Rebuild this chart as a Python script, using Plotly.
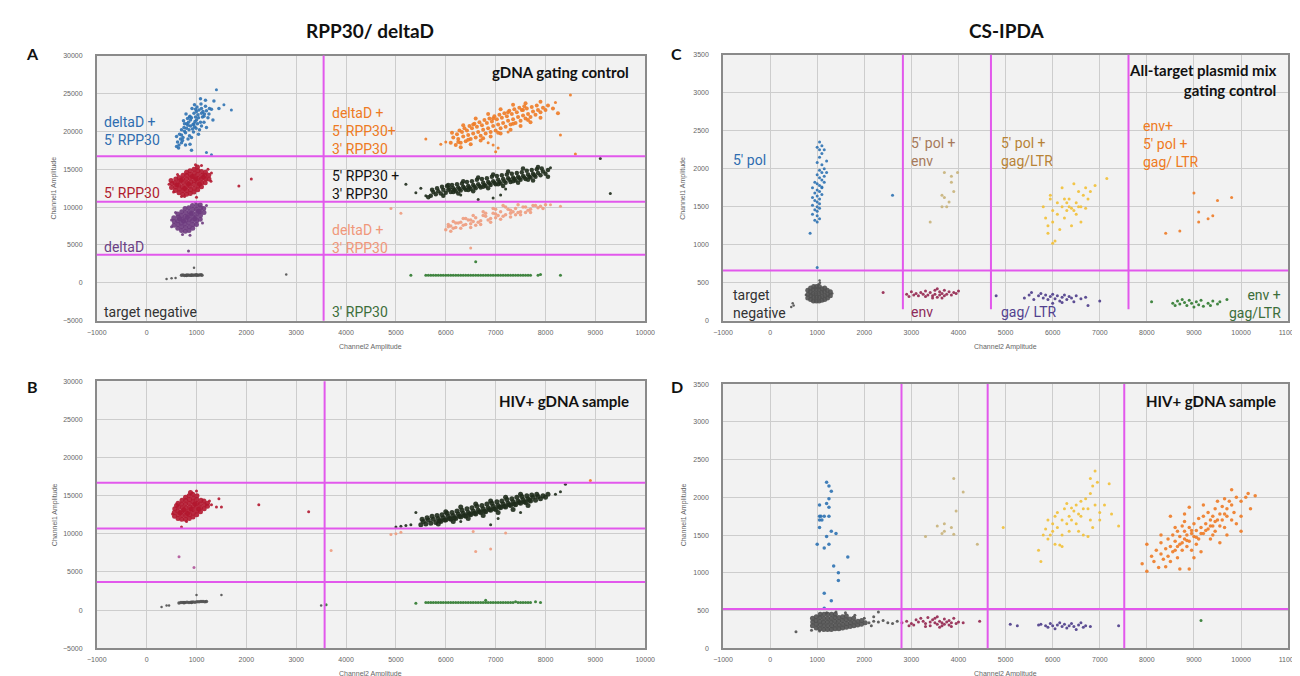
import plotly.graph_objects as go

W, H = 1300, 676

# ---------------- data (Channel2 amplitude, Channel1 amplitude) ----------------
# Panel A: RPP30 / deltaD, gDNA gating control
A_blue = [(700,19500),(750,20500),(800,21000),(850,20200),(900,21800),(950,22400),(1000,21500),(1050,22800),(1100,23000),(1150,22000),(720,18800),(780,19800),(830,20800),(880,21500),(930,20900),(980,21900),(1030,22200),(1080,21200),(1130,22600),(1180,23300),(650,18200),(760,20000),(870,22000),(960,20600),(1020,21000),(1120,21900),(820,21700),(900,19200),(990,20400),(1060,20200),(640,17800),(700,18500),(780,18200),(860,19400),(940,19900),(1010,23200),(1090,23600),(1160,22300),(1230,21800),(1260,23000),(600,18000),(680,19000),(900,17500),(1350,24000),(1450,23000),(840,21200),(920,20300),(970,21300),(1040,21800),(1100,22400),(800,20400),(880,20700),(950,21000),(1000,22600),(1200,22700),(730,19200),(860,21900),(620,18600),(660,19600),(700,20200),(740,21400),(790,22300),(830,19000),(870,18300),(910,23000),(960,23500),(1040,19600),(1100,20700),(1150,21200),(1200,20500),(1250,22300),(1300,22900),(1180,24100),(1080,24300),(980,22900),(1330,21500),(760,21000),(600,19300)]
A_blue_out = [(1400,25500),(1550,23500),(1700,22800),(1200,17200),(1300,16900)]
A_red = [(500,12600),(510,13100),(490,13500),(575,12200),(580,12700),(570,13200),(585,13700),(650,11900),(655,12400),(645,12900),(660,13400),(650,13900),(725,11700),(730,12200),(720,12700),(735,13200),(725,13700),(730,14200),(800,11700),(805,12200),(795,12700),(810,13200),(800,13700),(805,14200),(800,14600),(875,11800),(880,12300),(870,12800),(885,13300),(875,13800),(880,14300),(870,14800),(950,12000),(955,12500),(945,13000),(960,13500),(950,14000),(955,14500),(950,15000),(1025,12300),(1030,12800),(1020,13300),(1035,13800),(1025,14300),(1030,14800),(1020,15300),(1100,12700),(1105,13200),(1095,13700),(1110,14200),(1100,14700),(1175,13200),(1180,13700),(1170,14200),(1180,14600),(1250,13700),(1245,14200),(610,12950),(690,13550),(760,12450),(840,13050),(915,14050),(990,13750),(1060,13050),(1140,13950)]
A_red_out = [(450,13000),(980,15600),(1850,12800),(2100,13700),(1000,11300),(700,11400),(1300,14500),(540,12000),(620,14300),(1230,15000),(1290,13400),(760,11400),(1100,15500)]
A_purple = [(550,7600),(555,8100),(545,8600),(625,7200),(630,7700),(620,8200),(635,8700),(625,9100),(700,6900),(705,7400),(695,7900),(710,8400),(700,8900),(705,9400),(775,6800),(780,7300),(770,7800),(785,8300),(775,8800),(780,9300),(770,9800),(850,6900),(855,7400),(845,7900),(860,8400),(850,8900),(855,9400),(845,9900),(925,7200),(930,7700),(920,8200),(935,8700),(925,9200),(930,9700),(920,10200),(1000,7700),(1005,8200),(995,8700),(1010,9200),(1000,9700),(1005,10200),(1075,8400),(1080,8900),(1070,9400),(1085,9900),(1075,10300),(1150,9300),(1145,9800),(740,8150),(815,8650),(890,9150),(965,8450),(660,8450),(1040,9450)]
A_purple_out = [(500,7400),(720,6400),(840,4200),(980,10600),(1200,10200),(580,9300),(1120,7900),(870,6300),(500,8300)]
A_gray = [(700,1000),(730,1030),(760,980),(790,1010),(820,1040),(850,990),(880,1020),(910,1050),(940,1000),(970,1030),(1000,1060),(1030,1010),(1060,1040),(1090,1070),(1110,1020),(800,960),(900,990),(1000,1000)]
A_gray_out = [(400,500),(500,600),(580,650),(950,2000),(2800,1100)]
A_orange = [(6100,18500),(6150,19200),(6125,19800),(6200,18200),(6250,19000),(6225,19600),(6275,20100),(6300,18500),(6350,19300),(6325,19900),(6375,20400),(6400,18700),(6450,19500),(6425,20100),(6475,20700),(6500,19000),(6550,19700),(6525,20400),(6575,21000),(6600,19200),(6650,19900),(6625,20600),(6675,21200),(6700,19400),(6750,20200),(6725,20800),(6775,21500),(6800,19700),(6850,20400),(6825,21100),(6875,21700),(6900,19900),(6950,20700),(6925,21300),(6975,22000),(7000,20100),(7050,20900),(7025,21600),(7075,22200),(7100,20400),(7150,21100),(7125,21800),(7175,22400),(7200,20600),(7250,21400),(7225,22000),(7275,22700),(7300,20900),(7350,21600),(7325,22300),(7375,22900),(7400,21100),(7450,21900),(7425,22500),(7475,23100),(7500,21400),(7550,22100),(7525,22800),(7575,23300),(7600,21700),(7650,22300),(7625,23000),(7700,21900),(7750,22600),(7725,23200),(7800,22200),(7850,22800),(7825,23400),(7900,22500),(7950,23100),(8000,22800),(8050,23400),(6300,17900),(6500,18300),(6700,18800),(6900,19300),(7100,19700),(7300,20200),(7500,20700),(7700,21200),(7900,21800),(6350,20800),(6600,21700),(6850,22300),(7100,22900),(7350,23500),(7600,23700),(7900,23900),(6450,18900),(6750,19100),(7050,19800),(7350,21000),(7650,21500),(6550,20900),(6950,21700),(7250,22500),(7550,22800),(6250,18600),(8150,23000),(8250,22400)]
A_orange_out = [(5600,19000),(8500,24800),(8600,17000),(8300,19500),(7000,17300),(7050,17800),(6850,18500),(8200,23800),(6000,18600),(5900,18300),(6950,18200),(7250,19900)]
A_dark = [(5700,11500),(5750,12000),(5725,12300),(5800,11700),(5850,12100),(5825,12500),(5900,11800),(5950,12300),(5925,12700),(6000,11900),(6050,12300),(6025,12800),(6075,12500),(6100,12000),(6150,12500),(6125,12900),(6175,12300),(6200,12100),(6250,12600),(6225,13000),(6275,12400),(6300,12200),(6350,12700),(6325,13100),(6375,12500),(6400,12300),(6450,12800),(6425,13300),(6475,12600),(6500,12400),(6550,12900),(6525,13400),(6575,12700),(6600,12500),(6650,13000),(6625,13600),(6675,12800),(6700,12600),(6750,13200),(6725,13700),(6775,12900),(6800,12800),(6850,13300),(6825,13800),(6875,13100),(6900,12900),(6950,13400),(6925,14000),(6975,13200),(7000,13000),(7050,13600),(7025,14100),(7075,13300),(7100,13100),(7150,13700),(7125,14200),(7175,13400),(7200,13200),(7250,13800),(7225,14300),(7275,13600),(7300,13300),(7350,13900),(7325,14400),(7375,13700),(7400,13500),(7450,14000),(7425,14500),(7475,13800),(7500,13600),(7550,14100),(7525,14600),(7575,13900),(7600,13700),(7650,14300),(7625,14800),(7675,14000),(7700,13900),(7750,14400),(7725,14900),(7775,14200),(7800,14000),(7850,14500),(7825,15000),(7900,14200),(7950,14700),(7925,15100),(8000,14400),(8050,14900),(5650,11300),(5950,11500),(6250,11800),(6550,12100),(6850,12500),(7150,12800),(7450,13200),(7750,13500),(8050,14000),(6050,12900),(6350,13400),(6650,13900),(6950,14300),(7250,14700),(7550,15100),(7850,15300),(6150,12000),(6450,12250),(6750,12700),(7050,13000),(7350,13400),(7650,13600)]
A_dark_out = [(5500,12500),(5200,13000),(5600,11500),(9300,11800),(9100,16400),(6950,11200),(6650,11000),(7100,11600),(7200,12400),(6300,11600),(8100,15200),(5400,11900)]
A_salmon = [(6000,7000),(6050,7400),(6100,7500),(6150,7200),(6200,7300),(6250,7900),(6300,8000),(6350,7600),(6400,7700),(6450,8300),(6500,8300),(6500,7800),(6550,8100),(6600,8600),(6650,8000),(6700,8200),(6750,8900),(6800,8800),(6850,8300),(6900,8500),(6950,9200),(7000,9100),(7000,8600),(7050,8900),(7100,9400),(7150,8800),(7200,9000),(7250,9700),(7300,9600),(7300,9200),(7350,9400),(7400,9800),(7450,9300),(7500,9400),(7550,10000),(7600,10000),(7650,9600),(7700,9700),(7750,10200),(7800,10200),(7850,9900),(7900,10100),(8000,10300),(6200,7900),(6600,7600),(7000,9700),(7400,9000),(7200,10000),(6800,9200),(6400,8500),(7600,9300),(6100,6800),(6300,7200),(6500,7300),(6700,7700),(6900,8000),(7100,8400),(7300,8700),(7500,9000),(7700,9300),(6150,8100),(6350,8500),(6550,8900),(6750,9400),(6950,9800),(7150,10200),(7450,10300),(7950,9800),(6050,7700)]
A_salmon_out = [(4900,9800),(5100,9200),(6500,4600),(8300,10100),(8100,10300)]
A_green = [(5600,1000),(5650,990),(5700,1010),(5750,1000),(5800,990),(5850,1010),(5900,1000),(5950,990),(6000,1010),(6050,1000),(6100,990),(6150,1010),(6200,1000),(6250,990),(6300,1010),(6350,1000),(6400,990),(6450,1010),(6500,1000),(6550,990),(6600,1010),(6650,1000),(6700,990),(6750,1010),(6800,1000),(6850,990),(6900,1010),(6950,1000),(7000,990),(7050,1010),(7100,1000),(7150,990),(7200,1010),(7250,1000),(7300,990),(7350,1010),(7400,1000),(7450,990),(7500,1010),(7550,1000),(7600,990),(7650,1000),(7700,1000)]
A_green_out = [(5300,1000),(6600,2800),(7900,1100),(8300,1000),(7850,1000)]

# Panel B: RPP30 / deltaD, HIV+ gDNA sample
B_red = [(560,12300),(555,12800),(565,13300),(630,12000),(635,12500),(625,13000),(640,13500),(630,14000),(705,11900),(710,12400),(700,12900),(715,13400),(705,13900),(710,14400),(780,11900),(785,12400),(775,12900),(790,13400),(780,13900),(785,14400),(780,14800),(855,12000),(860,12500),(850,13000),(865,13500),(855,14000),(860,14500),(850,15000),(930,12200),(935,12700),(925,13200),(940,13700),(930,14200),(935,14700),(925,15200),(1005,12500),(1010,13000),(1000,13500),(1015,14000),(1005,14500),(1010,15000),(1080,12900),(1085,13400),(1075,13900),(1090,14400),(1155,13300),(1160,13800),(1150,14300),(1220,13600),(1220,14000),(670,12750),(745,13150),(820,12650),(895,13250),(970,13950),(1045,13250),(600,13700),(880,15400)]
B_red_out = [(1000,15600),(1300,13800),(1400,13500),(1500,13500),(1450,14600),(2250,13800),(3250,12900),(700,10900),(520,12600),(1260,14300),(800,11600)]
B_pink = [(650,7000),(950,5600)]
B_gray = [(650,950),(690,990),(730,1000),(770,1020),(810,1050),(850,1000),(890,1050),(930,1080),(970,1050),(1010,1100),(1050,1100),(1090,1120),(1130,1150),(1170,1100),(1200,1150),(750,960),(900,1010)]
B_gray_out = [(300,400),(400,600),(450,600),(1000,2000),(1500,2000),(3500,600)]
B_green = [(5600,1000),(5650,990),(5700,1000),(5750,1010),(5800,990),(5850,1000),(5900,1020),(5950,1000),(6000,1000),(6050,990),(6100,1000),(6150,1010),(6200,990),(6250,1000),(6300,1010),(6350,1000),(6400,1010),(6450,990),(6500,1000),(6550,1010),(6600,990),(6650,1000),(6700,1020),(6750,1010),(6800,1000),(6850,990),(6900,1000),(6950,1010),(7000,1000),(7050,990),(7100,1010),(7150,1000),(7200,990),(7250,1010),(7300,1000),(7350,1010),(7400,1100),(7450,1000),(7500,1000),(7550,990),(7600,1010),(7650,1000),(7700,1000)]
B_green_out = [(3600,700),(5400,900),(6800,1300),(7800,1100),(7900,1000)]
B_dark = [(5500,11200),(5550,11600),(5525,11900),(5600,11300),(5650,11800),(5625,12100),(5700,11400),(5750,11900),(5725,12300),(5800,11500),(5850,12000),(5825,12400),(5875,11700),(5900,11600),(5950,12100),(5925,12500),(5975,11800),(6000,11800),(6050,12300),(6025,12700),(6075,12000),(6100,11900),(6150,12400),(6125,12800),(6175,12100),(6200,12000),(6250,12600),(6225,13000),(6275,12300),(6300,12200),(6350,12700),(6325,13100),(6375,12400),(6400,12300),(6450,12800),(6425,13300),(6475,12600),(6500,12500),(6550,13000),(6525,13400),(6575,12700),(6600,12600),(6650,13100),(6625,13600),(6675,12900),(6700,12800),(6750,13300),(6725,13700),(6775,13000),(6800,12900),(6850,13400),(6825,13900),(6875,13200),(6900,13100),(6950,13600),(6925,14000),(6975,13300),(7000,13200),(7050,13700),(7025,14200),(7075,13500),(7100,13400),(7150,13900),(7125,14300),(7175,13600),(7200,13500),(7250,14000),(7225,14500),(7275,13800),(7300,13700),(7350,14200),(7325,14600),(7375,13900),(7400,13800),(7450,14300),(7425,14800),(7475,14100),(7500,14000),(7550,14500),(7525,14900),(7575,14200),(7600,14100),(7650,14600),(7625,15000),(7675,14400),(7700,14300),(7750,14800),(7725,15100),(7800,14400),(7850,14900),(7825,15200),(7900,14600),(7950,15000),(8000,14800),(8050,15200),(5850,11300),(6150,11600),(6450,12000),(6750,12400),(7050,12800),(7350,13200),(7650,13700),(6000,12900),(6300,13500),(6600,13900),(6900,14300),(7200,14800),(7500,15200)]
B_dark_out = [(5300,11200),(5100,11000),(5000,10900),(5400,12800),(6900,11200),(7050,12000),(7500,12800),(8200,15200),(8300,15500),(8400,16500),(6300,11600),(5200,11100)]
B_salmon = [(4900,9900),(5000,10000),(5100,10200),(6550,10300),(6600,7700),(6900,8000),(7200,10100),(3700,7800)]
B_orange = [(8900,17000)]

# Panel C: CS-IPDA, all-target plasmid mix gating control
C_blue = [(1050,2350),(1100,2300),(1000,2280),(1150,2250),(1100,2200),(1050,2150),(1200,2100),(1000,2080),(1100,2050),(1150,2000),(1050,1980),(1100,1950),(1000,1920),(1150,1900),(1050,1880),(1100,1850),(950,1820),(1000,1800),(1050,1780),(1100,1760),(900,1750),(1000,1720),(1050,1700),(950,1680),(1100,1660),(1000,1640),(900,1620),(1050,1600),(950,1580),(1000,1560),(1050,1540),(900,1520),(1000,1500),(1050,1480),(950,1460),(1000,1440),(900,1400),(1000,1380),(1050,1340),(950,1320),(1000,1300),(850,1150),(1100,1750),(1150,1820),(1200,1950),(1050,2250),(1000,700),(2600,1650)]
C_gray = [(800,300),(805,350),(800,400),(860,280),(865,330),(855,380),(860,430),(920,260),(925,310),(915,360),(920,410),(925,450),(980,260),(985,310),(975,360),(980,410),(985,450),(1040,260),(1045,310),(1035,360),(1040,410),(1045,450),(1100,270),(1105,320),(1095,370),(1100,420),(1160,280),(1165,330),(1155,380),(1160,430),(1220,300),(1225,350),(1215,400),(1280,330),(1280,380)]
C_gray_out = [(1030,480),(1060,500),(1050,530),(500,200),(450,180),(480,230),(1320,360),(760,340)]
C_khaki = [(3700,1950),(3850,1900),(3980,1950),(3850,1820),(3900,1700),(3650,1650),(3700,1620),(3800,1560),(3650,1500),(3400,1300),(3750,1500)]
C_maroon = [(2900,350),(2950,320),(3000,380),(3050,340),(3100,360),(3150,330),(3200,370),(3250,350),(3300,390),(3350,340),(3400,370),(3450,330),(3500,400),(3500,350),(3550,310),(3600,380),(3600,340),(3650,360),(3700,330),(3700,400),(3750,350),(3800,380),(3850,340),(3900,370),(3950,360),(4000,390),(3550,420),(3450,300),(3650,300),(3300,320),(2400,370)]
C_purple = [(4800,330),(5400,300),(5500,340),(5550,370),(5600,280),(5700,330),(5750,360),(5800,300),(5850,340),(5900,280),(5950,320),(6000,350),(6050,290),(6100,330),(6150,260),(6200,310),(6250,340),(6300,280),(6350,320),(6400,300),(6450,250),(6500,330),(6600,290),(6700,310),(6750,200),(7000,260),(6200,240),(6000,230)]
C_yellow = [(5800,1500),(5850,1350),(5900,1250),(5950,1650),(6000,1450),(6000,1300),(6050,1050),(6100,1550),(6100,1400),(6150,1200),(6200,1750),(6200,1500),(6250,1350),(6300,1450),(6350,1600),(6400,1480),(6400,1250),(6450,1800),(6500,1550),(6500,1400),(6550,1700),(6600,1500),(6650,1650),(6700,1750),(6700,1480),(6750,1600),(6800,1700),(5900,1150),(6000,1020),(6300,1550),(6600,1300),(6900,1780),(7150,1870),(6250,1600),(6450,1450),(5950,1600),(6350,1500),(6550,1500)]
C_orange = [(9000,1680),(9500,1580),(9800,1620),(9100,1430),(9100,1300),(9300,1340),(9400,1380),(8400,1150),(8700,1180)]
C_green = [(8100,250),(8550,230),(8600,200),(8650,260),(8700,220),(8750,280),(8800,240),(8850,200),(8900,270),(8950,230),(9000,180),(9050,250),(9100,210),(9150,270),(9200,190),(9300,230),(9350,200),(9400,260),(9500,220),(9550,250),(9700,280)]

# Panel D: CS-IPDA, HIV+ gDNA sample
D_gray = [(900,300),(905,350),(900,400),(980,270),(985,320),(975,370),(980,420),(1060,260),(1065,310),(1055,360),(1060,410),(1065,450),(1140,250),(1145,300),(1135,350),(1140,400),(1145,450),(1220,250),(1225,300),(1215,350),(1220,400),(1225,450),(1300,250),(1305,300),(1295,350),(1300,400),(1305,450),(1380,260),(1385,310),(1375,360),(1380,410),(1385,450),(1460,260),(1465,310),(1455,360),(1460,410),(1540,270),(1545,320),(1535,370),(1540,420),(1620,280),(1625,330),(1615,380),(1620,430),(1700,290),(1705,340),(1695,390),(1780,300),(1785,350),(1775,400),(1860,310),(1865,360),(1940,320),(1945,370),(2020,340)]
D_gray_out = [(2100,340),(2200,360),(2300,350),(2400,370),(2500,340),(2600,330),(2700,360),(2300,480),(2200,420),(1400,480),(1200,470),(1600,470),(880,240),(550,220),(1050,230),(2000,400),(2150,300),(1800,440)]
D_blue = [(1200,2200),(1250,2150),(1300,2080),(1250,1980),(1200,1920),(1050,1900),(1250,1870),(1150,1750),(1080,1750),(1250,1750),(1050,1700),(1100,1700),(1050,1600),(1300,1550),(1400,1520),(1200,1480),(1000,1380),(1250,1380),(1150,1330),(1650,1210),(1350,1090),(1450,1000),(1450,900),(1150,730),(1300,630),(1150,530),(1050,1750)]
D_khaki = [(3900,2250),(4100,2070),(3950,1820),(3700,1650),(3550,1620),(3850,1600),(3700,1550),(3650,1520),(3900,1510),(3300,1480),(4400,1380)]
D_yellow = [(4950,1600),(5700,1300),(5750,1150),(5800,1500),(5850,1580),(5900,1450),(5900,1700),(6000,1550),(6000,1650),(6050,1380),(6100,1800),(6100,1600),(6150,1370),(6200,1700),(6200,1500),(6250,1850),(6300,1650),(6300,1920),(6350,1750),(6350,1550),(6400,1700),(6450,1820),(6500,1650),(6500,1900),(6550,1550),(6600,1750),(6650,1850),(6650,1500),(6700,1980),(6750,1850),(6800,2050),(6800,1700),(6850,2150),(6900,1900),(6900,2350),(6950,2200),(7000,1800),(7000,1700),(7200,2180),(7250,1780),(6800,2250),(6600,1950),(6400,1860),(6200,1350),(6050,1750),(5950,1500),(7100,1900),(6850,1600),(6550,1780),(7400,1620),(6750,1480)]
D_orange = [(7900,1120),(8000,1380),(8000,1020),(8100,1220),(8150,1150),(8200,1300),(8250,1070),(8300,1250),(8300,1400),(8350,1180),(8400,1320),(8400,1080),(8450,1450),(8450,1220),(8500,1350),(8500,1150),(8550,1500),(8550,1280),(8600,1420),(8600,1600),(8650,1200),(8650,1550),(8700,1380),(8700,1480),(8700,1050),(8750,1620),(8750,1300),(8800,1450),(8800,1550),(8800,1680),(8850,1350),(8850,1500),(8900,1600),(8900,1420),(8900,1870),(8950,1520),(8950,1300),(9000,1480),(9000,1650),(9050,1560),(9050,1380),(9100,1720),(9100,1450),(9150,1600),(9150,1280),(9200,1750),(9200,1520),(9250,1650),(9300,1800),(9300,1580),(9350,1700),(9350,1450),(9400,1750),(9400,1620),(9450,1850),(9450,1550),(9500,1700),(9500,1950),(9550,1780),(9550,1620),(9600,1880),(9600,1700),(9650,1980),(9650,1600),(9700,1750),(9700,1850),(9750,1950),(9800,1700),(9800,1900),(9850,1800),(9900,2000),(9900,1650),(10000,1750),(10000,1950),(10100,2000),(10200,1850),(10300,2020),(10150,2050),(9800,2100),(9550,1400),(9000,1200),(8900,1050),(8800,1780),(8600,1300),(8500,1750),(8300,1500),(9200,1900),(9400,1500),(9700,1500),(10000,1550),(8950,1560),(9050,1470),(8850,1430),(9150,1520),(8750,1400),(9250,1560),(9450,1680),(9650,1780),(8650,1350),(9350,1620)]
D_maroon = [(2800,340),(2900,360),(3000,330),(3050,310),(3100,380),(3150,350),(3200,400),(3250,360),(3300,330),(3350,410),(3400,350),(3400,300),(3450,380),(3500,340),(3500,400),(3550,320),(3600,360),(3600,280),(3650,340),(3700,390),(3700,320),(3750,350),(3800,370),(3800,310),(3850,340),(3900,400),(3950,330),(4000,350),(4100,340),(4450,360),(3300,290),(3550,420),(2950,300),(3650,300),(3850,290)]
D_purple = [(5100,320),(5250,300),(5700,310),(5750,320),(5850,300),(5900,280),(5950,330),(6000,300),(6050,260),(6100,310),(6150,340),(6200,290),(6250,320),(6300,270),(6350,300),(6400,330),(6450,290),(6500,250),(6550,310),(6600,340),(6650,280),(6700,300),(6800,290),(7400,300)]
D_green = [(9150,370)]

# gating thresholds
A_hgates = [16700, 10700, 3700]
A_vgate = 3550
B_hgates = [16700, 10700, 3700]
B_vgate = 3570
C_hgate = 660
C_vgates = [2820, 4690, 7610]
C_vgate_bottom = 150
D_hgate = 520
D_vgates = [2790, 4620, 7520]

# ---------------- colours ----------------
BLUE = '#2e72b3'; RED = '#b3172f'; PURPLE = '#6d3b7e'; GRAY = '#505050'
ORANGE = '#ee7b26'; DARK = '#1e2b1b'; SALMON = '#ee9c7e'; GREEN = '#2f7a2f'
KHAKI = '#c8b27a'; YELLOW = '#f2c036'; MAROON = '#94264f'; GAGP = '#4c3c8a'
PINK = '#b0559a'
GATE = '#e258ec'

fig = go.Figure()

def add(pts, color, ax, size=3, op=0.9):
    xs = [p[0] for p in pts]
    ys = [p[1] for p in pts]
    fig.add_trace(go.Scatter(x=xs, y=ys, mode='markers', xaxis='x' + ax, yaxis='y' + ax,
                             marker=dict(color=color, size=size, opacity=op, line=dict(width=0)),
                             showlegend=False, hoverinfo='skip'))

# A
add(A_blue, BLUE, '', 3.5); add(A_blue_out, BLUE, '', 3)
add(A_red, RED, '', 5); add(A_red_out, RED, '', 3)
add(A_purple, PURPLE, '', 5); add(A_purple_out, PURPLE, '', 3)
add(A_gray, GRAY, '', 3.5); add(A_gray_out, GRAY, '', 2.5)
add(A_orange, ORANGE, '', 4); add(A_orange_out, ORANGE, '', 3)
add(A_dark, DARK, '', 4.5); add(A_dark_out, DARK, '', 3)
add(A_salmon, SALMON, '', 3.5); add(A_salmon_out, SALMON, '', 3)
add(A_green, GREEN, '', 3); add(A_green_out, GREEN, '', 3)
# B
add(B_red, RED, '2', 5); add(B_red_out, RED, '2', 3)
add(B_pink, PINK, '2', 3)
add(B_gray, GRAY, '2', 3.5); add(B_gray_out, GRAY, '2', 2.5)
add(B_green, GREEN, '2', 3); add(B_green_out, GREEN, '2', 3)
add(B_dark, DARK, '2', 5); add(B_dark_out, DARK, '2', 3)
add(B_salmon, SALMON, '2', 3)
add(B_orange, ORANGE, '2', 3)
# C
add(C_blue, BLUE, '3', 3)
add(C_gray, GRAY, '3', 5); add(C_gray_out, GRAY, '3', 2.5)
add(C_khaki, KHAKI, '3', 3)
add(C_maroon, MAROON, '3', 3)
add(C_purple, GAGP, '3', 3)
add(C_yellow, YELLOW, '3', 3)
add(C_orange, ORANGE, '3', 3)
add(C_green, GREEN, '3', 3)
# D
add(D_gray, GRAY, '4', 5); add(D_gray_out, GRAY, '4', 3)
add(D_blue, BLUE, '4', 3.5)
add(D_khaki, KHAKI, '4', 3)
add(D_yellow, YELLOW, '4', 3)
add(D_orange, ORANGE, '4', 3.5)
add(D_maroon, MAROON, '4', 3)
add(D_purple, GAGP, '4', 3)
add(D_green, GREEN, '4', 3)

# ---------------- gates ----------------
shapes = []
def hline(ax, y):
    shapes.append(dict(type='line', xref='x' + ax + ' domain', yref='y' + ax, x0=0, x1=1, y0=y, y1=y,
                       line=dict(color=GATE, width=2), layer='above'))
def vline(ax, x, y0=None, y1=None):
    if y0 is None:
        shapes.append(dict(type='line', xref='x' + ax, yref='y' + ax + ' domain', x0=x, x1=x, y0=0, y1=1,
                           line=dict(color=GATE, width=2), layer='above'))
    else:
        shapes.append(dict(type='line', xref='x' + ax, yref='y' + ax, x0=x, x1=x, y0=y0, y1=y1,
                           line=dict(color=GATE, width=2), layer='above'))
for g in A_hgates: hline('', g)
vline('', A_vgate)
for g in B_hgates: hline('2', g)
vline('2', B_vgate)
hline('3', C_hgate)
for g in C_vgates: vline('3', g, C_vgate_bottom, 3500)
hline('4', D_hgate)
for g in D_vgates: vline('4', g)

# ---------------- axes ----------------
def px_x(a, b): return [a / W, b / W]
def px_y(top, bot): return [1 - bot / H, 1 - top / H]

common = dict(showgrid=True, gridcolor='#cdcdcd', gridwidth=1, zeroline=False,
              showline=True, linecolor='#8a8a8a', linewidth=1.5, mirror=True,
              tickfont=dict(size=7, color='#666666', family='Liberation Sans'),
              tickformat='d', ticks='outside', tickcolor='rgba(0,0,0,0)')

layout_axes = dict(
    xaxis=dict(domain=px_x(80, 637), range=[-1000, 10000], dtick=1000, anchor='y', ticklen=4, **common),
    yaxis=dict(domain=px_y(44, 312), range=[-5000, 30000], dtick=5000, anchor='x', ticklen=11, **common),
    xaxis2=dict(domain=px_x(80, 637), range=[-1000, 10000], dtick=1000, anchor='y2', ticklen=4, **common),
    yaxis2=dict(domain=px_y(373, 643), range=[-5000, 30000], dtick=5000, anchor='x2', ticklen=11, **common),
    xaxis3=dict(domain=px_x(716, 1290), range=[-1000, 11000], dtick=1000, anchor='y3', ticklen=4, **common),
    yaxis3=dict(domain=px_y(43, 312), range=[0, 3500], dtick=500, anchor='x3', ticklen=11, **common),
    xaxis4=dict(domain=px_x(716, 1290), range=[-1000, 11000], dtick=1000, anchor='y4', ticklen=4, **common),
    yaxis4=dict(domain=px_y(376, 643), range=[0, 3500], dtick=500, anchor='x4', ticklen=11, **common),
)

# ---------------- annotations ----------------
ann = []
BOLD = 'Lato'

def txt(ax, x, y, text, color, xanchor='left', align='left', size=14, family='Roboto', bold=False):
    t = '<b>' + text + '</b>' if bold else text
    ann.append(dict(xref='x' + ax, yref='y' + ax, x=x, y=y, text=t, showarrow=False,
                    xanchor=xanchor, yanchor='middle', align=align,
                    font=dict(family=family, size=size, color=color)))

# A labels
txt('', -900, 20100, "deltaD +<br>5' RPP30", '#2e6db0')
txt('', -900, 11900, "5' RPP30", '#b01c2e')
txt('', -900, 4700, "deltaD", '#6a3f85')
txt('', -900, -3800, "target negative", '#333333')
txt('', 3680, 20050, "deltaD +<br>5' RPP30+<br>3' RPP30", '#ee7a22')
txt('', 3680, 12970, "5' RPP30 +<br>3' RPP30", '#111111')
txt('', 3680, 5760, "deltaD +<br>3' RPP30", '#f0977a')
txt('', 3680, -3800, "3' RPP30", '#3d6e3a')
txt('', 9720, 27800, "gDNA gating control", '#111111', xanchor='right', align='right', size=15, family=BOLD, bold=True)
# B
txt('2', 9720, 27400, "HIV+ gDNA sample", '#111111', xanchor='right', align='right', size=15, family=BOLD, bold=True)
# C labels
txt('3', -820, 2108, "5' pol", '#2e6db0')
txt('3', 2950, 2218, "5' pol +<br>env", '#a67a5b')
txt('3', 4850, 2218, "5' pol +<br>gag/LTR", '#b78336')
txt('3', 7880, 2329, "env+<br>5' pol +<br>gag/ LTR", '#ee7a22')
txt('3', 10780, 3161, "All-target plasmid mix<br>gating control", '#111111', xanchor='right', align='right', size=15, family=BOLD, bold=True)
txt('3', -820, 221, "target<br>negative", '#333333')
txt('3', 2950, 117, "env", '#8e2a5b')
txt('3', 4850, 117, "gag/ LTR", '#52418f')
txt('3', 10880, 221, "env +<br>gag/LTR", '#3d6e3a', xanchor='right', align='right')
# D
txt('4', 10780, 3277, "HIV+ gDNA sample", '#111111', xanchor='right', align='right', size=15, family=BOLD, bold=True)

def ptxt(x, y, text, size, color='#111111', bold=True, family=BOLD, angle=0):
    t = '<b>' + text + '</b>' if bold else text
    ann.append(dict(xref='paper', yref='paper', x=x / W, y=1 - y / H, text=t, showarrow=False,
                    xanchor='center', yanchor='middle', textangle=angle,
                    font=dict(family=family, size=size, color=color)))

ptxt(358, 19, "RPP30/ deltaD", 19)
ptxt(1004, 19, "CS-IPDA", 19)
ptxt(15, 42, "A", 16)
ptxt(15, 378, "B", 16)
ptxt(669, 42, "C", 16)
ptxt(669, 378, "D", 16)
for (x, y) in [(358, 338), (358, 669), (1003, 338), (1003, 669)]:
    ptxt(x, y, "Channel2 Amplitude", 7, color='#666666', bold=False, family='Liberation Sans')
for (x, y) in [(37, 178), (37, 508), (676, 178), (676, 508)]:
    ptxt(x, y, "Channel1 Amplitude", 7, color='#666666', bold=False, family='Liberation Sans', angle=-90)

fig.update_layout(width=W, height=H, margin=dict(l=0, r=0, t=0, b=0),
                  paper_bgcolor='white', plot_bgcolor='#f2f2f2',
                  shapes=shapes, annotations=ann, showlegend=False, **layout_axes)

fig.write_html("out.html")
